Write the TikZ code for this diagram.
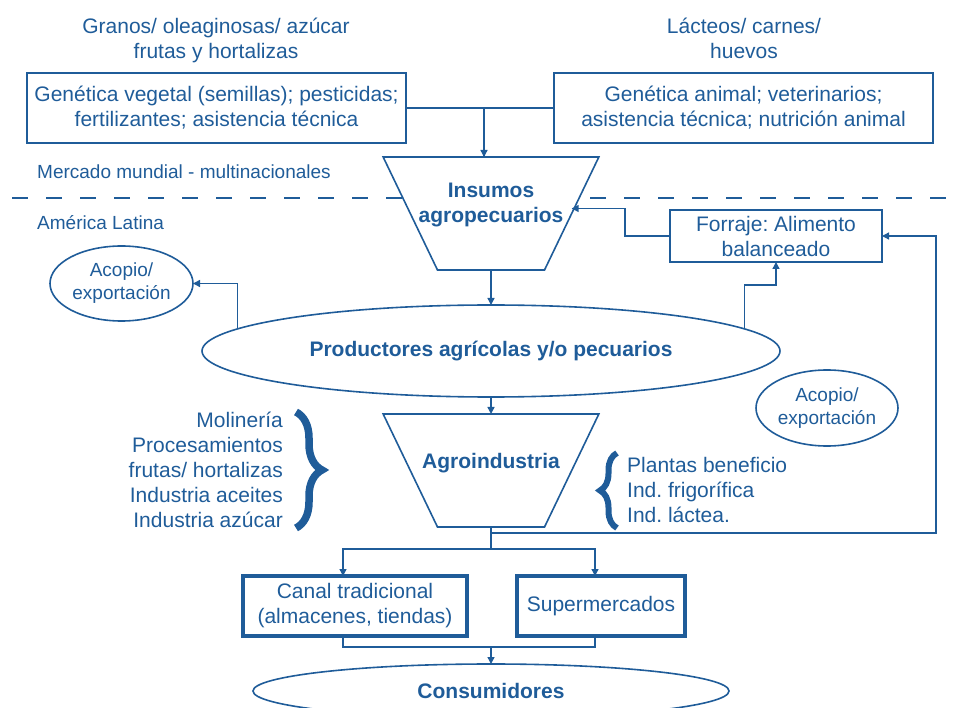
\documentclass[tikz,border=0pt]{standalone}
\usepackage{fontspec}
\setmainfont{Liberation Sans}
\frenchspacing
\usetikzlibrary{positioning,shapes.geometric,arrows.meta,decorations.pathreplacing}
\definecolor{azul}{RGB}{31,92,153}
\tikzset{
  caja/.style={draw=azul, text=azul, line width=1.6pt, align=center, inner sep=0pt, outer sep=0pt, font=\fontsize{21}{25}\selectfont},
  cajagruesa/.style={caja, line width=3.6pt},
  embudo/.style={draw=azul, fill=white, line width=1.6pt, trapezium, shape border rotate=180, trapezium left angle=64, trapezium right angle=64, trapezium stretches=true, minimum width=216pt, minimum height=113pt, inner sep=1pt, outer sep=0pt},
  ovalo/.style={draw=azul, text=azul, line width=1.6pt, ellipse, inner sep=0pt, outer sep=0pt, align=center, font=\fontsize{21}{25}\selectfont},
  texto/.style={text=azul, align=center, inner sep=0pt, font=\fontsize{21}{25}\selectfont},
  chico/.style={font=\fontsize{19}{23}\selectfont},
  negrita/.style={texto, font=\fontsize{21}{25}\selectfont\bfseries},
  flecha/.style={draw=azul, line width=1.4pt, -{Triangle[length=7pt,width=7pt]}},
  linea/.style={draw=azul, line width=1.4pt},
  llave/.style={draw=azul, decorate, decoration={brace, amplitude=#1}}
}

\begin{document}
\begin{tikzpicture}[x=1pt,y=1pt,yscale=-1,xscale=1]
\useasboundingbox (0,0) rectangle (964,708);

% Text Node
\node[texto] (granos) at (216,40) {Granos/ oleaginosas/ azúcar\\ frutas y hortalizas};
% Text Node
\node[texto] (lacteos) at (744,38) {Lácteos/ carnes/\\ huevos};
% Text Node
\node[caja, minimum width=379pt, minimum height=70pt] (genveg) at (216.5,108) {Genética vegetal (semillas); pesticidas;\\ fertilizantes; asistencia técnica};
% Text Node
\node[caja, minimum width=379pt, minimum height=70pt] (genani) at (743.5,108) {Genética animal; veterinarios;\\ asistencia técnica; nutrición animal};
% Text Node
\node[texto, chico, anchor=west] (mercado) at (37,172) {Mercado mundial - multinacionales};
% Text Node
\node[texto, chico, anchor=west] (america) at (37,223) {América Latina};

%Dashed Line
\draw[azul, line width=2pt, dash pattern=on 16pt off 18pt] (12,198) -- (964,198);

% Insumos
\node[embudo] (insumos) at (491,213.5) {\phantom{x}};
\node[negrita] (insumostxt) at (491,205) {Insumos\\ agropecuarios};
% Text Node
\node[caja, minimum width=212pt, minimum height=52pt] (forraje) at (776,236) {Forraje: Alimento\\ balanceado};
% Text Node
\node[ovalo, chico, minimum width=143pt, minimum height=75pt] (acopioa) at (121.5,283.5) {Acopio/\\ exportación};
% Text Node
\node[ovalo, minimum width=578pt, minimum height=92pt] (prod) at (491,351) {\bfseries Productores agrícolas y/o pecuarios};
% Text Node
\node[ovalo, chico, minimum width=142pt, minimum height=76pt] (acopiob) at (827,408) {Acopio/\\ exportación};

% Agroindustria
\node[embudo] (agro) at (491,470.5) {\phantom{x}};
\node[negrita] (agrotxt) at (491,463) {Agroindustria};
% Text Node
\node[texto, align=right, anchor=east] (ramasveg) at (283,470) {Molinería\\ Procesamientos\\ frutas/ hortalizas\\ Industria aceites\\ Industria azúcar};
% Text Node
\node[texto, align=left, anchor=west] (ramasani) at (627,490) {Plantas beneficio\\ Ind. frigorífica\\ Ind. láctea.};
%Braces
\draw[llave=26pt, line width=7.5pt] (296,412) -- (296,528);
\draw[llave=17pt, line width=6pt] (617,528) -- (617,453);

% Text Node
\node[cajagruesa, minimum width=224pt, minimum height=60pt] (canal) at (355,606) {Canal tradicional\\ (almacenes, tiendas)};
% Text Node
\node[cajagruesa, minimum width=168pt, minimum height=60pt] (super) at (601,606) {Supermercados};
% Text Node
\node[ovalo, minimum width=476pt, minimum height=54pt] (cons) at (491,691) {\bfseries Consumidores};

%Connectors
\draw[flecha] (genveg.east) -| ([xshift=-7pt]insumos.north);
\draw[linea] (genani.west) -| ([xshift=-7pt]insumos.north);
\draw[flecha] (forraje.west) -- ++(-45,0) |- ([yshift=-5pt]insumos.east);
\draw[flecha] (insumos.south) -- (prod.north);
\draw[flecha] (prod.175) |- (acopioa.east);
\draw[flecha] (prod.5) -- ++(0,-44) -| (forraje.south);
\draw[flecha] (prod.south) -- (agro.north);
\draw[linea] (agro.south) -- ++(0,22) coordinate (reparto);
\draw[flecha] (reparto) -| ([xshift=-12pt]canal.north);
\draw[flecha] (reparto) -| ([xshift=-6pt]super.north);
\draw[flecha] ([yshift=6pt]agro.south) -| ([xshift=54pt]forraje.east) -- (forraje.east);
\draw[linea] ([xshift=-12pt]canal.south) -- ++(0,11) coordinate (union) -| ([xshift=-6pt]super.south);
\draw[flecha] (union -| cons.north) -- (cons.north);

\end{tikzpicture}
\end{document}
